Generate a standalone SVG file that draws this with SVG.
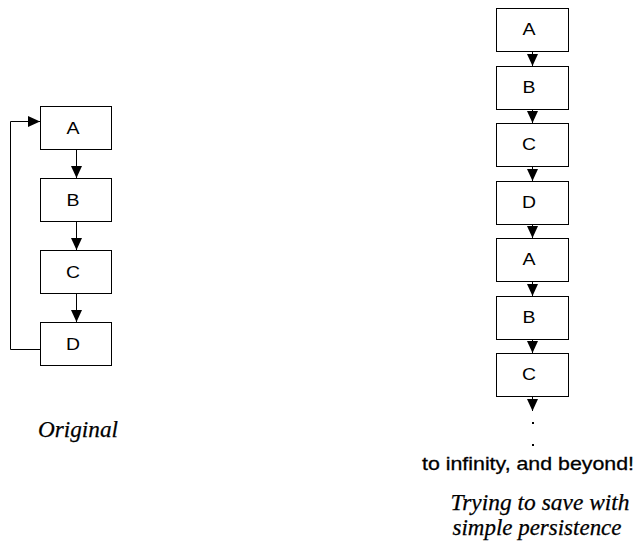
<svg xmlns="http://www.w3.org/2000/svg" width="643" height="547" viewBox="0 0 643 547">
  <defs>
    <marker id="arrow" viewBox="0 0 12 11" refX="12" refY="5.5" markerWidth="12" markerHeight="11" markerUnits="userSpaceOnUse" orient="auto">
      <path d="M0,0 L12,5.5 L0,11 Z" fill="#000"/>
    </marker>
  </defs>
  <style>
    .box { fill: #fff; stroke: #000; stroke-width: 1; }
    .lbl { font-family: "Liberation Sans", Arial, sans-serif; font-size: 17px; fill: #000; text-anchor: middle; }
    .edge { fill: none; stroke: #000; stroke-width: 1; marker-end: url(#arrow); }
    .cap { font-family: "Liberation Serif", "Times New Roman", serif; font-style: italic; font-size: 23px; fill: #000; text-anchor: middle; stroke: #000; stroke-width: 0.25; }
    .note { font-family: "Liberation Sans", Arial, sans-serif; font-size: 19px; fill: #000; text-anchor: middle; stroke: #000; stroke-width: 0.3; }
  </style>
  <rect width="643" height="547" fill="#fff"/>

  <!-- original cycle -->
  <g id="orig-A"><rect class="box" x="40.5" y="106.5" width="71" height="43"/><text class="lbl" x="73" y="134" textLength="13" lengthAdjust="spacingAndGlyphs">A</text></g>
  <g id="orig-B"><rect class="box" x="40.5" y="178.5" width="71" height="43"/><text class="lbl" x="73" y="206" textLength="13" lengthAdjust="spacingAndGlyphs">B</text></g>
  <g id="orig-C"><rect class="box" x="40.5" y="250.5" width="71" height="43"/><text class="lbl" x="73" y="278" textLength="14" lengthAdjust="spacingAndGlyphs">C</text></g>
  <g id="orig-D"><rect class="box" x="40.5" y="322.5" width="71" height="43"/><text class="lbl" x="73" y="350" textLength="14" lengthAdjust="spacingAndGlyphs">D</text></g>

  <!-- unrolled chain -->
  <g id="chain-A1"><rect class="box" x="496.5" y="8.5" width="72" height="43"/><text class="lbl" x="529" y="35" textLength="13" lengthAdjust="spacingAndGlyphs">A</text></g>
  <g id="chain-B1"><rect class="box" x="496.5" y="66.5" width="72" height="43"/><text class="lbl" x="529" y="93" textLength="13" lengthAdjust="spacingAndGlyphs">B</text></g>
  <g id="chain-C1"><rect class="box" x="496.5" y="123.5" width="72" height="43"/><text class="lbl" x="529" y="150" textLength="14" lengthAdjust="spacingAndGlyphs">C</text></g>
  <g id="chain-D1"><rect class="box" x="496.5" y="181.5" width="72" height="43"/><text class="lbl" x="529" y="208" textLength="14" lengthAdjust="spacingAndGlyphs">D</text></g>
  <g id="chain-A2"><rect class="box" x="496.5" y="238.5" width="72" height="43"/><text class="lbl" x="529" y="265" textLength="13" lengthAdjust="spacingAndGlyphs">A</text></g>
  <g id="chain-B2"><rect class="box" x="496.5" y="296.5" width="72" height="43"/><text class="lbl" x="529" y="323" textLength="13" lengthAdjust="spacingAndGlyphs">B</text></g>
  <g id="chain-C2"><rect class="box" x="496.5" y="353.5" width="72" height="43"/><text class="lbl" x="529" y="380" textLength="14" lengthAdjust="spacingAndGlyphs">C</text></g>

  <g id="connectors">
    <line class="edge" x1="76.5" y1="150" x2="76.5" y2="178"/>
    <line class="edge" x1="76.5" y1="222" x2="76.5" y2="250"/>
    <line class="edge" x1="76.5" y1="294" x2="76.5" y2="322"/>
    <polyline class="edge" points="40,349.5 10.5,349.5 10.5,121.5 40,121.5"/>

    <line class="edge" x1="532.5" y1="52" x2="532.5" y2="66"/>
    <line class="edge" x1="532.5" y1="110" x2="532.5" y2="123"/>
    <line class="edge" x1="532.5" y1="167" x2="532.5" y2="181"/>
    <line class="edge" x1="532.5" y1="225" x2="532.5" y2="238"/>
    <line class="edge" x1="532.5" y1="282" x2="532.5" y2="296"/>
    <line class="edge" x1="532.5" y1="340" x2="532.5" y2="353"/>
    <line class="edge" x1="532.5" y1="397" x2="532.5" y2="411"/>
  </g>

  <!-- continuation dots -->
  <rect x="532" y="422" width="2" height="2" fill="#000"/>
  <rect x="532" y="444" width="2" height="2" fill="#000"/>

  <text class="note" x="528" y="470" textLength="212" lengthAdjust="spacingAndGlyphs">to infinity, and beyond!</text>
  <text class="cap" x="78" y="437" style="font-size:24px" textLength="80" lengthAdjust="spacingAndGlyphs">Original</text>
  <text class="cap" x="540" y="510" textLength="179" lengthAdjust="spacingAndGlyphs">Trying to save with</text>
  <text class="cap" x="537" y="535" textLength="169" lengthAdjust="spacingAndGlyphs">simple persistence</text>
</svg>
